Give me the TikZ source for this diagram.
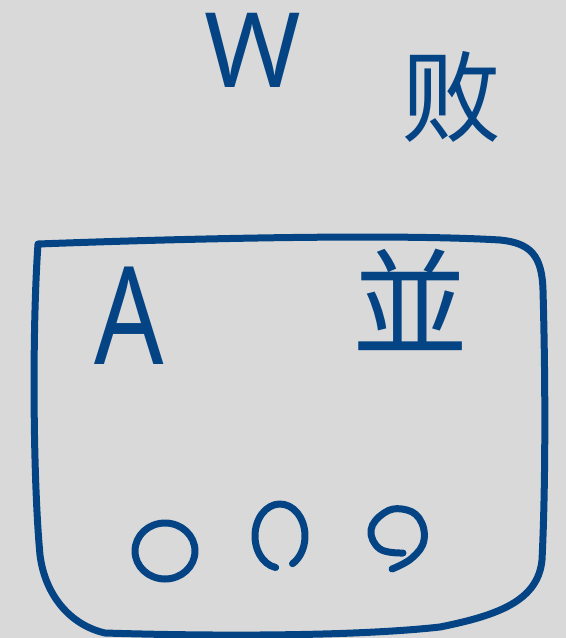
\documentclass[tikz,border=0pt]{standalone}
\usepackage{fontspec}
\usepackage{tikz}
\usepackage{xcolor}
\setmainfont{Noto Sans}
\newfontfamily\cjk{Noto Sans CJK SC}
\definecolor{inkblue}{RGB}{4,68,132}
\definecolor{paper}{RGB}{217,217,217}

\begin{document}
\begin{tikzpicture}[x=0.5pt,y=-0.5pt,ink/.style={draw=inkblue,line width=3.5pt,line cap=round,line join=round},
  letter/.style={text=inkblue,inner sep=0pt}]
\fill[paper] (0,0) rectangle (566,638);
\useasboundingbox (0,0) rectangle (566,638);
\draw[ink] (38,244) .. controls (200,238) and (400,234) .. (500,240) .. controls (530,243) and (542,255) .. (543,290)
  .. controls (546,400) and (545,500) .. (542,560) .. controls (538,600) and (500,615) .. (440,627)
  .. controls (350,637) and (200,636) .. (105,633) .. controls (70,625) and (45,595) .. (40,555)
  .. controls (33,480) and (32,330) .. (38,244);
\draw[ink] (165,551) ellipse[x radius=30,y radius=28];
\draw[ink] (280,536) ++(100:25 and 32) arc[start angle=100,end angle=420,x radius=25,y radius=32];
\draw[ink] plot[smooth,tension=0.7] coordinates {(403,553) (380,549) (371,530) (384,513) (402,509) (419,518) (424,540) (412,558) (392,569)};
\node[letter,font=\fontsize{52}{52}\selectfont] (w) at (253,50) {W};
\node[letter,font=\cjk\fontsize{50}{50}\selectfont] (bai) at (451,97) {败};
\node[letter,xscale=0.8,font=\fontsize{68}{68}\selectfont] (a) at (129,316) {A};
\node[letter,font=\cjk\fontsize{58}{58}\selectfont] (bing) at (410,300) {並};
\end{tikzpicture}
\end{document}
